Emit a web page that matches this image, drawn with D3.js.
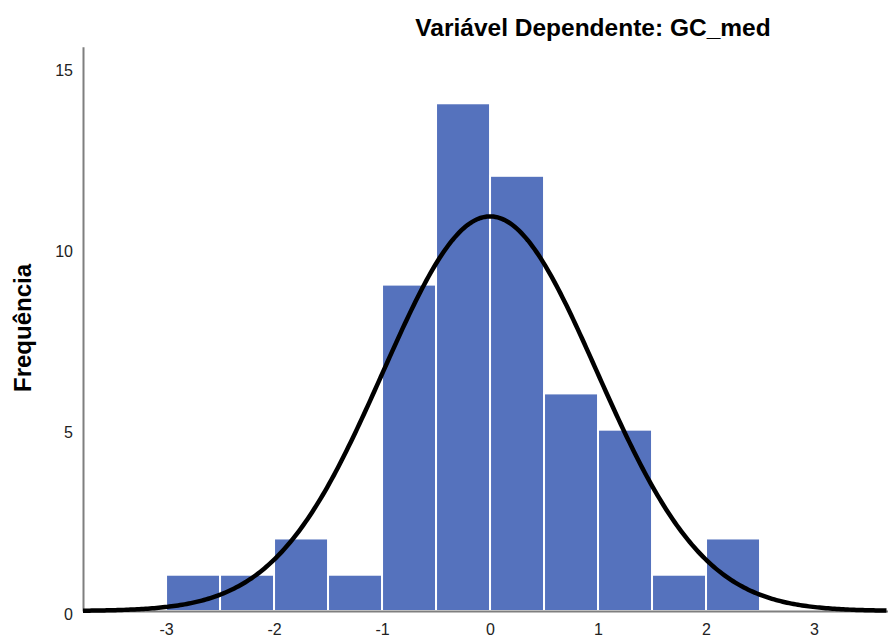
<!DOCTYPE html>
<html><head><meta charset="utf-8">
<script src="https://cdn.jsdelivr.net/npm/d3@7"></script>
<style>
html,body{margin:0;padding:0;background:#fff;}
svg{display:block;font-family:"Liberation Sans",Arial,sans-serif;}
</style></head>
<body>
<svg id="chart" width="888" height="637"></svg>
<script>
// Data
const binStarts = [-3, -2.5, -2, -1.5, -1, -0.5, 0, 0.5, 1, 1.5, 2];
const counts = [1, 1, 2, 1, 9, 14, 12, 6, 5, 1, 2];
const binWidth = 0.5;
const curveMean = 0;
const curveSd = 0.99;
const xTicks = [-3, -2, -1, 0, 1, 2, 3];
const yTicks = [0, 5, 10, 15];
const title = "Variável Dependente: GC_med";
const yLabel = "Frequência";

const svg = d3.select("#chart");
const N = d3.sum(counts);

const x = d3.scaleLinear().domain([-3.769, 3.685]).range([83, 888]);
const y = d3.scaleLinear().domain([0, 15.56]).range([611, 46.7]);

// bars
svg.append("g").selectAll("rect").data(binStarts).join("rect")
  .attr("x", (d) => x(d))
  .attr("y", (d, i) => y(counts[i]))
  .attr("width", (d) => x(d + binWidth) - x(d))
  .attr("height", (d, i) => y(0) - y(counts[i]))
  .attr("fill", "#5572bd")
  .attr("stroke", "#ffffff")
  .attr("stroke-width", 2);

// axes
const ax = svg.append("g").attr("transform", `translate(0,${y(0)})`)
  .call(d3.axisBottom(x).tickValues(xTicks).tickSize(0).tickSizeOuter(0).tickPadding(13).tickFormat(d => String(d)));
const ay = svg.append("g").attr("transform", `translate(${x.range()[0]},0)`)
  .call(d3.axisLeft(y).tickValues(yTicks).tickSize(0).tickSizeOuter(0).tickPadding(10).tickFormat(d => String(d)));
[ax, ay].forEach(g => {
  g.select(".domain").attr("stroke", "#7f7f7f").attr("stroke-width", 2);
  g.selectAll("text").attr("font-size", 16).attr("fill", "#222").attr("font-family", "Liberation Sans, Arial, sans-serif");
});
ax.selectAll("text").attr("dy", "0.71em");
ay.selectAll("text").attr("dy", "0.5em");

// normal curve
const pts = d3.range(x.domain()[0], x.domain()[1] + 0.001, 0.02).map(v => {
  const z = (v - curveMean) / curveSd;
  return [v, N * binWidth * Math.exp(-0.5 * z * z) / (curveSd * Math.sqrt(2 * Math.PI))];
});
svg.append("path").datum(pts)
  .attr("fill", "none").attr("stroke", "#000").attr("stroke-width", 4.5)
  .attr("d", d3.line().x(d => x(d[0])).y(d => y(d[1])));

// title
svg.append("text").attr("x", 593).attr("y", 36).attr("text-anchor", "middle")
  .attr("font-size", 24.5).attr("font-weight", "bold").attr("fill", "#000").text(title);

// y label
svg.append("text").attr("transform", "translate(31,328) rotate(-90)").attr("text-anchor", "middle")
  .attr("font-size", 24).attr("font-weight", "bold").attr("fill", "#000").text(yLabel);
</script>
</body></html>
